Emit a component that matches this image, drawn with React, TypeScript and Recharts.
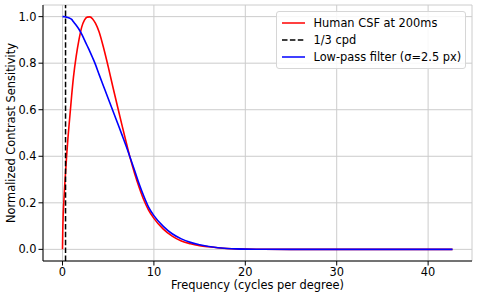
import { LineChart, Line, XAxis, YAxis, CartesianGrid, ReferenceLine } from "recharts"

// spatial frequency samples (cycles per degree)
const freq = [
  0, 0.03, 0.07, 0.14, 0.3, 0.45, 0.6, 0.8, 1.0, 1.2, 1.5, 1.8, 2.1, 2.4, 2.7, 3.0, 3.3, 3.6, 4.0, 4.5,
  5.0, 5.5, 6.0, 6.5, 7.0, 7.4, 7.9, 8.4, 8.9, 9.4, 10, 11, 12, 13, 14, 15, 16, 17, 18, 19, 20, 22, 25,
  30, 35, 40, 42.67,
]

// Human CSF at 200ms (normalized)
const csf = [
  0, 0.08, 0.14, 0.2, 0.31, 0.4, 0.48, 0.57, 0.66, 0.74, 0.83, 0.9, 0.955, 0.985, 0.998, 0.999, 0.99,
  0.972, 0.935, 0.865, 0.785, 0.7, 0.617, 0.535, 0.455, 0.393, 0.325, 0.265, 0.212, 0.17, 0.133, 0.088,
  0.057, 0.036, 0.024, 0.016, 0.011, 0.007, 0.004, 0.002, 0.001, 0.0003, 0, 0, 0, 0, 0,
]

// Low-pass filter (sigma = 2.5 px) response
const lowPass = [
  1, 1, 1, 1, 0.999, 0.998, 0.996, 0.993, 0.988, 0.978, 0.963, 0.946, 0.925, 0.9, 0.875, 0.85, 0.823,
  0.795, 0.752, 0.7, 0.648, 0.597, 0.545, 0.493, 0.44, 0.395, 0.338, 0.28, 0.228, 0.183, 0.145, 0.1,
  0.067, 0.045, 0.03, 0.02, 0.012, 0.007, 0.004, 0.002, 0.001, 0.0003, 0, 0, 0, 0, 0,
]

const xTicks = [0, 10, 20, 30, 40]
const yTicks = [0, 0.2, 0.4, 0.6, 0.8, 1.0]
const cutoff = 1 / 3

const legendItems = [
  { label: "Human CSF at 200ms", color: "#ff0000", dash: "" },
  { label: "1/3 cpd", color: "#000000", dash: "5.5 2.4" },
  { label: "Low-pass filter (σ=2.5 px)", color: "#0000ff", dash: "" },
]

const data = freq.map((f, i) => ({ f, csf: csf[i], lp: lowPass[i] }))

const font = "'DejaVu Sans', sans-serif"
const tickStyle = { fontSize: 11.4, fill: "#000", fontFamily: font }

export default function App() {
  return (
    <div style={{ position: "absolute", left: 0, top: 0, width: 478, height: 298, background: "#fff" }}>
      <LineChart width={478} height={298} data={data} margin={{ top: 5, right: 6, bottom: 0, left: 0 }}>
        <CartesianGrid stroke="#cccccc" strokeWidth={1} />
        <XAxis
          dataKey="f"
          type="number"
          domain={[-2.133, 44.8]}
          ticks={xTicks}
          allowDataOverflow
          height={37}
          tickSize={4.5}
          tickMargin={2}
          tick={tickStyle}
          stroke="#000"
          label={{ value: "Frequency (cycles per degree)", position: "insideBottom", offset: 9.5, style: { fontSize: 11.4, fill: "#000", fontFamily: font } }}
        />
        <YAxis
          type="number"
          domain={[-0.05, 1.05]}
          ticks={yTicks}
          allowDataOverflow
          width={43}
          tickSize={4.5}
          tickMargin={2}
          tick={tickStyle}
          tickFormatter={(v: number) => v.toFixed(1)}
          stroke="#000"
          label={{ value: "Normalized Contrast Sensitivity", angle: -90, position: "insideLeft", offset: 11, style: { fontSize: 11.4, fill: "#000", fontFamily: font, textAnchor: "middle" } }}
        />
        <Line dataKey="csf" stroke="#ff0000" strokeWidth={1.6} dot={false} type="monotone" isAnimationActive={false} />
        <ReferenceLine x={cutoff} stroke="#000" strokeWidth={1.5} strokeDasharray="5.5 2.4" />
        <Line dataKey="lp" stroke="#0000ff" strokeWidth={1.6} dot={false} type="monotone" isAnimationActive={false} />
      </LineChart>
      <div
        style={{
          position: "absolute",
          left: 276,
          top: 11,
          width: 188,
          padding: "3px 0",
          background: "rgba(255,255,255,0.85)",
          border: "1px solid #d6d6d6",
          borderRadius: 3,
          fontFamily: font,
          fontSize: 11.4,
        }}
      >
        {legendItems.map((item) => (
          <div key={item.label} style={{ display: "flex", alignItems: "center", height: 16.7 }}>
            <svg width={23} height={6} style={{ marginLeft: 4.5, marginRight: 9 }}>
              <line x1={0} y1={3} x2={23} y2={3} stroke={item.color} strokeWidth={1.5} strokeDasharray={item.dash || undefined} />
            </svg>
            <span style={{ whiteSpace: "nowrap" }}>{item.label}</span>
          </div>
        ))}
      </div>
    </div>
  )
}
